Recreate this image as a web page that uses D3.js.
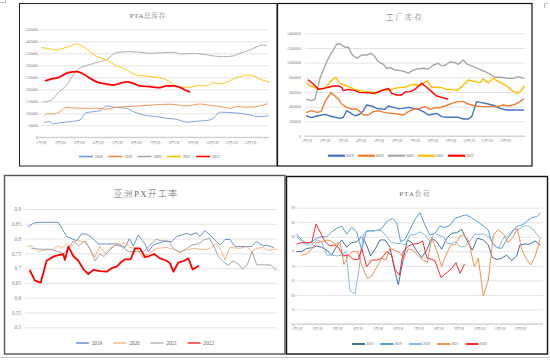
<!DOCTYPE html>
<html><head><meta charset="utf-8">
<script src="https://cdn.jsdelivr.net/npm/d3@7/dist/d3.min.js"></script>
<style>
body{margin:0;background:#fff}
svg{display:block}
text{font-family:"Liberation Serif","Noto Sans CJK SC",serif}
</style>
</head><body>
<svg id="c" width="550" height="360"></svg>
<script>
// ---------- shared labels ----------
const monthLabels = ["1月1日","2月1日","3月1日","4月1日","5月1日","6月1日","7月1日","8月1日","9月1日","10月1日","11月1日","12月1日"];
const monthTicks = [0,1,2,3,4,5,6,7,8,9,10,11];

// ---------- Panel 1: PTA总库存 (x = months since Jan 1) ----------
const inv1Years = ["2018","2019","2020","2021","2022"];
const inv1Ticks = [0,50000,100000,150000,200000,250000,300000,350000,400000,450000];
const inv2018 = [[0.18,62000],[0.47,65000],[0.65,56000],[1.0,61000],[1.53,65000],[2.05,72000],[2.32,100000],[2.75,107000],[3.11,111000],[3.46,131000],[3.89,125000],[4.51,121000],[4.86,107000],[5.39,93000],[6.09,86000],[6.61,79000],[7.14,75000],[7.67,63000],[8.19,67000],[8.72,70000],[9.07,79000],[9.42,105000],[9.95,103000],[10.47,100000],[11.0,93000],[11.53,86000],[11.96,89000]];
const inv2019 = [[0.18,89000],[0.39,100000],[0.65,96000],[1.0,107000],[1.35,125000],[1.88,121000],[2.40,121000],[2.93,121000],[3.46,117000],[3.89,124000],[4.51,128000],[5.21,131000],[5.91,135000],[6.79,138000],[7.67,131000],[8.37,139000],[8.89,133000],[9.42,128000],[9.95,121000],[10.30,128000],[10.82,125000],[11.53,131000],[11.88,139000]];
const inv2020 = [[0.12,146000],[0.56,156000],[0.91,186000],[1.35,218000],[1.70,260000],[2.05,289000],[2.40,299000],[2.93,312000],[3.46,325000],[3.98,353000],[4.68,357000],[5.21,354000],[5.74,350000],[6.44,353000],[6.96,354000],[7.40,347000],[8.02,350000],[8.54,346000],[9.07,339000],[9.60,336000],[10.12,339000],[10.47,350000],[11.0,364000],[11.70,385000],[11.88,381000]];
const inv2021 = [[0.04,374000],[0.47,368000],[0.74,364000],[1.18,371000],[1.53,380000],[1.88,389000],[2.05,385000],[2.40,368000],[2.93,336000],[3.46,322000],[3.89,301000],[4.51,281000],[4.86,264000],[5.39,256000],[6.09,250000],[6.61,239000],[6.96,222000],[7.32,208000],[7.84,208000],[8.19,215000],[8.72,214000],[9.07,228000],[9.42,222000],[9.77,229000],[10.12,243000],[10.47,253000],[10.82,260000],[11.18,256000],[11.53,242000],[12.0,232000]];
const inv2022 = [[0.25,236000],[0.56,243000],[0.91,249000],[1.18,260000],[1.44,269000],[1.88,274000],[2.23,264000],[2.58,246000],[2.93,231000],[3.46,222000],[3.81,218000],[4.16,225000],[4.51,231000],[4.86,225000],[5.21,214000],[5.74,211000],[6.26,207000],[6.61,214000],[6.96,214000],[7.32,208000],[7.58,197000],[7.81,190000]];

// ---------- Panel 2: 工厂库存 (x = months since Jan 1) ----------
const fac2Ticks = [0,200000,400000,600000,800000,1000000,1200000,1400000];
const fac2018 = [[0,273000],[0.28,250000],[0.56,273000],[1.02,295000],[1.30,273000],[1.57,255000],[1.85,241000],[2.04,255000],[2.22,345000],[2.41,318000],[2.69,273000],[2.96,300000],[3.15,345000],[3.33,423000],[3.61,409000],[3.89,377000],[4.17,368000],[4.35,364000],[4.54,409000],[4.81,391000],[5.09,373000],[5.37,377000],[5.65,391000],[5.93,377000],[6.20,364000],[6.48,332000],[6.76,286000],[7.04,300000],[7.22,309000],[7.5,264000],[7.78,255000],[8.15,255000],[8.43,255000],[8.70,232000],[8.98,232000],[9.17,264000],[9.44,468000],[9.72,455000],[10.09,436000],[10.46,409000],[10.74,377000],[11.11,355000],[11.57,355000],[12.04,355000]];
const fac2019 = [[0,323000],[0.28,345000],[0.56,323000],[0.80,332000],[1.02,468000],[1.35,591000],[1.57,545000],[1.76,505000],[1.94,436000],[2.22,391000],[2.5,368000],[2.78,368000],[2.96,332000],[3.15,286000],[3.43,286000],[3.70,332000],[3.98,345000],[4.35,318000],[4.72,309000],[5.09,300000],[5.37,286000],[5.65,332000],[5.93,364000],[6.30,377000],[6.57,400000],[6.85,364000],[7.13,386000],[7.41,386000],[7.69,409000],[8.06,445000],[8.43,468000],[8.70,468000],[8.98,436000],[9.35,409000],[9.72,400000],[10.19,400000],[10.56,400000],[10.93,423000],[11.2,409000],[11.57,432000],[11.85,468000],[12.04,505000]];
const fac2020 = [[0,500000],[0.24,482000],[0.46,500000],[0.74,786000],[1.17,1045000],[1.67,1254000],[1.85,1254000],[2.13,1209000],[2.31,1209000],[2.54,1104000],[2.78,1059000],[3.06,1104000],[3.33,1104000],[3.57,1127000],[3.76,1090000],[3.98,1013000],[4.26,977000],[4.44,923000],[4.63,932000],[4.91,900000],[5.19,891000],[5.46,877000],[5.65,855000],[5.87,891000],[6.17,914000],[6.48,923000],[6.76,914000],[7.04,968000],[7.31,991000],[7.5,955000],[7.72,968000],[7.96,1009000],[8.24,1000000],[8.43,977000],[8.70,1036000],[8.89,982000],[9.26,945000],[9.54,914000],[9.91,877000],[10.19,845000],[10.46,800000],[10.83,800000],[11.2,786000],[11.48,786000],[11.76,809000],[12.04,786000]];
const fac2021 = [[0,718000],[0.19,682000],[0.46,664000],[0.74,636000],[1.02,650000],[1.30,741000],[1.61,800000],[1.85,718000],[2.09,695000],[2.41,664000],[2.69,636000],[2.96,618000],[3.33,605000],[3.61,605000],[3.80,573000],[4.07,618000],[4.35,627000],[4.63,627000],[4.91,650000],[5.19,659000],[5.46,664000],[5.74,695000],[6.02,705000],[6.30,682000],[6.48,718000],[6.70,755000],[6.94,664000],[7.22,664000],[7.5,659000],[7.78,636000],[8.06,636000],[8.33,618000],[8.61,673000],[8.98,764000],[9.35,741000],[9.63,727000],[9.81,777000],[10.09,727000],[10.37,786000],[10.65,741000],[10.93,709000],[11.2,664000],[11.48,605000],[11.72,582000],[11.94,627000],[12.09,682000]];
const fac2022 = [[0.09,764000],[0.37,709000],[0.65,636000],[0.93,650000],[1.20,664000],[1.48,682000],[1.76,682000],[1.94,664000],[2.04,618000],[2.31,636000],[2.69,618000],[2.96,591000],[3.33,591000],[3.70,582000],[3.98,600000],[4.26,627000],[4.54,650000],[4.72,582000],[5.0,559000],[5.28,559000],[5.46,600000],[5.74,605000],[6.02,636000],[6.39,718000],[6.67,664000],[6.94,605000],[7.22,545000],[7.5,527000],[7.83,505000]];

// ---------- Panel 3: 亚洲PX开工率 (x = week index) ----------
const px3Years = ["2019","2020","2021","2022"];
const px3Ticks = [0.5,0.55,0.6,0.65,0.7,0.75,0.8,0.85,0.9];
const px2019 = [[0,.840],[1.05,.852],[2.1,.855],[3.85,.855],[5.95,.855],[6.3,.855],[8.05,.807],[10.15,.793],[11.2,.816],[12.25,.815],[13.3,.804],[14.7,.782],[16.45,.782],[18.55,.782],[20.3,.770],[21.2,.799],[22.05,.775],[23.1,.812],[24.5,.782],[25.2,.756],[26.25,.778],[27.3,.784],[28.35,.79],[30.1,.79],[31.15,.807],[32.2,.812],[33.25,.818],[34.1,.812],[35.35,.82],[36.05,.807],[37.1,.827],[38.15,.812],[40.25,.778],[41.3,.797],[42.35,.797],[43.4,.773],[44.45,.773],[45.85,.773],[46.9,.773],[47.95,.79],[49.35,.775],[50.05,.778],[51.45,.77]];
const px2020 = [[0,.776],[1.05,.773],[2.1,.756],[3.85,.762],[5.25,.764],[6.3,.776],[7.0,.767],[8.05,.782],[9.1,.773],[10.15,.793],[11.55,.79],[12.6,.773],[14.0,.737],[15.05,.775],[16.1,.750],[17.15,.767],[18.55,.782],[19.6,.782],[20.3,.786],[21.35,.770],[22.75,.767],[24.0,.737],[25.2,.748],[26.95,.767],[29.05,.770],[30.45,.764],[31.85,.756],[33.25,.762],[35.0,.767],[36.75,.762],[38.15,.767],[39.55,.782],[40.6,.756],[41.3,.728],[42.35,.770],[44.45,.767],[45.85,.773],[46.9,.756],[47.95,.767],[49.35,.77],[50.4,.759],[51.45,.764],[52.1,.764]];
const px2021 = [[0.7,.767],[2.45,.764],[4.55,.764],[6.3,.756],[7.35,.750],[8.4,.764],[9.45,.793],[10.6,.775],[11.9,.793],[12.95,.765],[14.0,.725],[15.05,.748],[15.9,.739],[16.8,.756],[18.2,.778],[19.6,.773],[21.0,.756],[22.75,.756],[24.3,.756],[25.55,.778],[26.8,.797],[28.0,.793],[29.4,.792],[30.45,.767],[31.85,.752],[33.25,.767],[34.3,.778],[35.7,.782],[36.75,.795],[38.0,.801],[38.85,.778],[39.9,.739],[40.95,.722],[42.0,.709],[43.05,.725],[44.1,.714],[45.0,.696],[46.0,.714],[47.0,.756],[47.95,.711],[49.35,.711],[50.9,.711],[52.0,.694]];
const px2022 = [[0.35,.692],[1.4,.658],[2.6,.651],[3.85,.725],[5.25,.739],[6.5,.745],[7.35,.747],[7.7,.728],[8.4,.773],[9.45,.741],[10.5,.725],[11.55,.697],[12.6,.680],[13.65,.694],[15.05,.690],[16.45,.688],[17.5,.700],[18.55,.705],[19.4,.719],[20.3,.730],[21.5,.730],[22.4,.767],[23.45,.767],[24.5,.737],[25.4,.741],[26.4,.748],[27.65,.733],[29.05,.725],[29.75,.716],[30.45,.688],[31.5,.719],[32.7,.725],[33.6,.733],[34.5,.696],[35.2,.702],[35.7,.707]];

// ---------- Panel 4: PTA负荷 (x = week index) ----------
const load4Years = ["2018","2019","2020","2021","2022"];
const load4Ticks = [50,55,60,65,70,75,80,85,90];
const load2018 = [[0,74.9],[1.07,74.9],[2.14,76],[3.2,76.2],[4.27,76.8],[5.34,76.4],[6.41,75.4],[7.48,73.7],[8.55,76.8],[9.62,78.9],[10.68,76.4],[11.75,78],[12.82,78.3],[13.89,80],[14.81,77.7],[15.81,73.4],[16.74,75.7],[17.81,78.9],[18.87,78.9],[19.94,76.4],[20.8,69.5],[21.72,63.4],[22.65,71.4],[23.65,78.9],[24.57,78],[25.64,75.2],[26.71,72.9],[27.78,75.4],[28.85,79.5],[29.91,78.3],[30.98,75.7],[32.05,79.5],[33.12,81.2],[34.19,81.4],[35.26,82.5],[36.32,78.9],[37.54,75.4],[38.6,79.5],[39.89,78.9],[40.95,77.2],[41.81,72.9],[42.88,72.2],[43.8,72.6],[44.87,73.7],[45.94,71.8],[47.01,73.4],[47.72,77.2],[48.79,77.5],[49.86,77.5],[50.93,78.6],[52,77.2]];
const load2019 = [[0,80.9],[1.07,78.9],[2.14,77.7],[3.2,78.3],[4.27,79.5],[5.34,80],[6.41,80],[7.48,81.7],[8.55,82.9],[9.62,83.7],[10.68,80.9],[11.75,83.2],[12.82,81.7],[13.89,75.4],[14.81,81.7],[15.81,82.1],[17.09,82.1],[18.16,82.9],[19.23,85.2],[20.44,86.3],[21.37,84.8],[22.22,78.3],[23.15,79.1],[24.22,82.5],[25.28,86],[26.35,88.3],[27.42,84],[28.49,80.6],[29.56,81.2],[30.63,83.7],[31.7,83.2],[32.76,84],[33.83,86.3],[34.9,86.9],[35.97,87.5],[37.04,86.9],[38.1,85.8],[39.17,84.6],[40.24,83.2],[40.95,82.3],[41.67,78.3],[42.74,76.4],[43.8,76],[44.87,78.9],[45.94,81.4],[47.01,83.5],[48.08,84],[49.15,85.2],[50.21,86.6],[51.28,86.9],[52,88]];
const load2020 = [[0,80],[1.07,78.3],[2.14,77.2],[3.2,77.2],[4.27,78.9],[5.34,78.3],[6.41,73.7],[7.48,73.7],[8.55,73.4],[9.62,73.7],[10.54,74.9],[11.4,61.4],[12.46,60.3],[13.39,69.7],[14.25,80.9],[15.1,82.3],[16.03,81.7],[17.09,82.3],[18.16,82.1],[19.23,80],[20.3,78],[21.37,77.7],[22.22,77.7],[23.15,77.2],[24.22,80.6],[25.28,80.8],[26.35,81.7],[27.42,80.6],[28.49,78.3],[29.34,81.2],[30.27,80.6],[31.34,80],[32.19,77.7],[33.12,77.7],[34.05,78.3],[34.9,76.6],[35.97,76.6],[37.04,78.6],[38.1,80.9],[39.17,80.9],[40.24,80.9],[41.17,79.8],[42.02,77.2],[43.09,76],[44.16,79.5],[45.23,80.6],[46.3,82.5],[47.36,82.5],[48.43,83.7],[49.5,83.7],[50.57,82.5],[51.64,80.2],[52,79.5]];
const load2021 = [[1.07,73.7],[2.14,74.1],[3.2,75.7],[4.27,78],[5.34,78.3],[6.41,78.9],[7.26,78.6],[8.19,77.5],[9.26,78],[10.11,70.5],[11.04,73.7],[11.97,74.9],[12.96,74.9],[14.03,69.7],[15.1,65.7],[16.03,66.5],[17.09,69.5],[18.16,72.6],[19.09,72],[19.94,76],[21.01,75.4],[22.08,74.5],[22.93,72.6],[23.86,75.8],[24.93,75.4],[26.0,73.4],[27.07,72],[27.92,71.1],[28.85,79.5],[29.91,75.4],[30.98,69.7],[31.91,73.7],[32.91,77.2],[33.83,77.2],[34.9,80.3],[35.75,80.6],[36.68,78.9],[37.96,69.7],[38.82,72.6],[39.89,59.6],[40.95,65.1],[42.02,80.6],[43.09,82.5],[44.16,80.9],[45.23,78],[46.3,80],[47.15,82.9],[48.08,75.7],[49.15,72.2],[50.0,70.3],[50.93,73.1],[52,79.1]];
const load2022 = [[0,77.5],[1.07,78],[2.14,78],[3.2,78],[4.13,84.4],[4.99,81.7],[6.05,78.3],[7.12,76.8],[7.98,77.2],[8.9,76.4],[9.97,73.4],[11.04,73.7],[12.11,72.2],[13.18,72.2],[13.89,76],[14.96,69.7],[16.03,72],[17.09,72],[18.16,72.6],[19.23,74.9],[20.3,73.7],[21.01,68.8],[21.94,66.8],[22.79,74.9],[23.86,76.8],[24.93,77.5],[26.0,77.7],[26.92,78.6],[27.78,72.9],[28.85,72.2],[29.56,71.8],[30.84,66.0],[32.05,67.6],[33.12,69.1],[34.05,71.1],[34.9,67.4],[35.83,70.5]];

// ---------- drawing ----------
const svg = d3.select("#c");
svg.append("rect").attr("width",550).attr("height",360).attr("fill","#fff");

function drawPanel(p){
  const g = svg.append("g");
  const x = d3.scaleLinear().domain(p.xDomain).range(p.xRange);
  const y = d3.scaleLinear().domain(p.yDomain).range(p.yRange);

  const ya = g.append("g").attr("transform",`translate(${p.gridX[0]},0)`)
    .call(d3.axisLeft(y).tickValues(p.yTicks).tickSize(-(p.gridX[1]-p.gridX[0])).tickPadding(p.yPad).tickFormat(p.yFmt));
  ya.select(".domain").remove();
  ya.selectAll(".tick line").attr("stroke","#d9d9d9").attr("stroke-width",0.7);
  ya.selectAll(".tick text").attr("font-size",p.yFont).attr("fill","#7f7f7f").attr("font-family","Liberation Serif, serif");

  if (p.xTicks){
    g.append("line").attr("x1",p.axisX[0]).attr("x2",p.axisX[1])
      .attr("y1",y(p.yDomain[0])).attr("y2",y(p.yDomain[0]))
      .attr("stroke","#bfbfbf").attr("stroke-width",0.8);
    const xa = g.append("g").attr("transform",`translate(0,${y(p.yDomain[0])})`)
      .call(d3.axisBottom(x).tickValues(p.xTicks).tickSize(0).tickPadding(p.xPad).tickFormat((d,i)=>monthLabels[i]));
    xa.select(".domain").remove();
    xa.selectAll(".tick text").attr("font-size",p.xFont).attr("fill","#7f7f7f")
      .attr("font-family","Liberation Serif, Noto Sans CJK SC, serif");
  }

  p.series.forEach(s=>{
    g.append("path").datum(s.data)
      .attr("fill","none").attr("stroke",s.color).attr("stroke-width",s.width)
      .attr("stroke-linejoin","round").attr("stroke-linecap","round")
      .attr("d", d3.line().x(d=>x(d[0])).y(d=>y(d[1])).curve(p.curve || d3.curveLinear));
  });

  g.append("text").attr("x",p.title.x).attr("y",p.title.y).attr("text-anchor","middle")
    .attr("font-size",p.title.size).attr("letter-spacing",p.title.spacing).attr("fill","#6a6a6a")
    .attr("font-weight",300)
    .attr("font-family","Liberation Serif, Noto Sans CJK SC, serif")
    .text(p.title.text);

  const L = p.legend;
  p.series.forEach((s,i)=>{
    const lx = L.x0 + i*L.step;
    g.append("line").attr("x1",lx).attr("x2",lx+L.len).attr("y1",L.y).attr("y2",L.y)
      .attr("stroke",s.color).attr("stroke-width",L.width || s.width*1.3);
    g.append("text").attr("x",lx+L.len+L.gap).attr("y",L.y).attr("dy","0.35em")
      .attr("font-size",L.font).attr("fill","#595959").text(s.name);
  });

  g.append("rect").attr("x",p.box[0]).attr("y",p.box[1]).attr("width",p.box[2]).attr("height",p.box[3])
    .attr("fill","none").attr("stroke",p.boxColor).attr("stroke-width",p.boxWidth);
}

drawPanel({
  box:[19.5,3.5,257.5,162.5], boxColor:"#222", boxWidth:1,
  title:{text:"PTA总库存", x:148, y:18, size:7, spacing:0.5},
  xDomain:[0,12], xRange:[41,269], yDomain:[0,450000], yRange:[137.3,29.3],
  yTicks:inv1Ticks, yFmt:d3.format("d"), gridX:[40,269], yPad:2, yFont:4,
  xTicks:monthTicks, axisX:[37,269], xPad:4, xFont:3.6,
  curve:d3.curveMonotoneX,
  series:[
    {name:inv1Years[0], data:inv2018, color:"#6F97DB", width:0.9},
    {name:inv1Years[1], data:inv2019, color:"#F08A4B", width:0.9},
    {name:inv1Years[2], data:inv2020, color:"#A5A5A5", width:0.9},
    {name:inv1Years[3], data:inv2021, color:"#FFC000", width:0.9},
    {name:inv1Years[4], data:inv2022, color:"#FF0000", width:1.8}
  ],
  legend:{x0:79, step:29.3, len:14, gap:2, y:156.5, font:3.8, width:1.6}
});

drawPanel({
  box:[277.5,3.5,254.5,162.5], boxColor:"#111", boxWidth:1.2,
  title:{text:"工厂库存", x:405, y:20, size:7.5, spacing:2},
  xDomain:[0,12], xRange:[306.7,522.7], yDomain:[0,1400000], yRange:[136,33.3],
  yTicks:fac2Ticks, yFmt:d3.format("d"), gridX:[305,525], yPad:4, yFont:4,
  xTicks:monthTicks, axisX:[304,525], xPad:4, xFont:3.4,
  series:[
    {name:"2018", data:fac2018, color:"#4472C4", width:1.4},
    {name:"2019", data:fac2019, color:"#ED7D31", width:1.4},
    {name:"2020", data:fac2020, color:"#A5A5A5", width:1.4},
    {name:"2021", data:fac2021, color:"#FFC000", width:1.4},
    {name:"2022", data:fac2022, color:"#FF0000", width:1.4}
  ],
  legend:{x0:328, step:30, len:17, gap:0.5, y:155.7, font:4, width:2.2}
});

drawPanel({
  box:[4.5,175.5,280.5,178.5], boxColor:"#555", boxWidth:1.4,
  title:{text:"亚洲PX开工率", x:146, y:196.5, size:9, spacing:1.2},
  xDomain:[0,52], xRange:[28.3,276], yDomain:[0.5,0.9], yRange:[327.3,209],
  yTicks:px3Ticks, yFmt:d=>String(+d.toFixed(2)), gridX:[25,277], yPad:4, yFont:5.2,
  series:[
    {name:px3Years[0], data:px2019, color:"#4472C4", width:0.8},
    {name:px3Years[1], data:px2020, color:"#F4A266", width:0.8},
    {name:px3Years[2], data:px2021, color:"#A5A5A5", width:1.0},
    {name:px3Years[3], data:px2022, color:"#FF0000", width:1.8}
  ],
  legend:{x0:76, step:37.2, len:13, gap:3, y:343, font:5.2, width:1.2}
});

drawPanel({
  box:[286.5,176.5,261,177.5], boxColor:"#111", boxWidth:1.4,
  title:{text:"PTA负荷", x:415, y:196, size:7, spacing:1},
  xDomain:[0,52], xRange:[296.7,540], yDomain:[50,90], yRange:[324,207.7],
  yTicks:load4Ticks, yFmt:d3.format("d"), gridX:[297,543], yPad:2, yFont:3.6,
  xTicks:monthTicks.map(m=>m*52/12), axisX:[296,543], xPad:4, xFont:3.4,
  series:[
    {name:load4Years[0], data:load2018, color:"#41719C", width:1.0},
    {name:load4Years[1], data:load2019, color:"#5B9BD5", width:1.0},
    {name:load4Years[2], data:load2020, color:"#8DB9E4", width:1.0},
    {name:load4Years[3], data:load2021, color:"#F0914F", width:1.0},
    {name:load4Years[4], data:load2022, color:"#FF2B2B", width:1.0}
  ],
  legend:{x0:352, step:28.4, len:13, gap:1, y:344, font:3.6, width:2}
});

svg.append("path").attr("d","M0,2.5H5.5V0").attr("fill","none").attr("stroke","#aaa").attr("stroke-width",0.8);
svg.append("path").attr("d","M548,3.5H544.5V8").attr("fill","none").attr("stroke","#aaa").attr("stroke-width",0.8);
svg.append("line").attr("x1",0).attr("x2",550).attr("y1",357.5).attr("y2",357.5).attr("stroke","#c8c8c8").attr("stroke-width",1.2);
</script>
</body></html>
